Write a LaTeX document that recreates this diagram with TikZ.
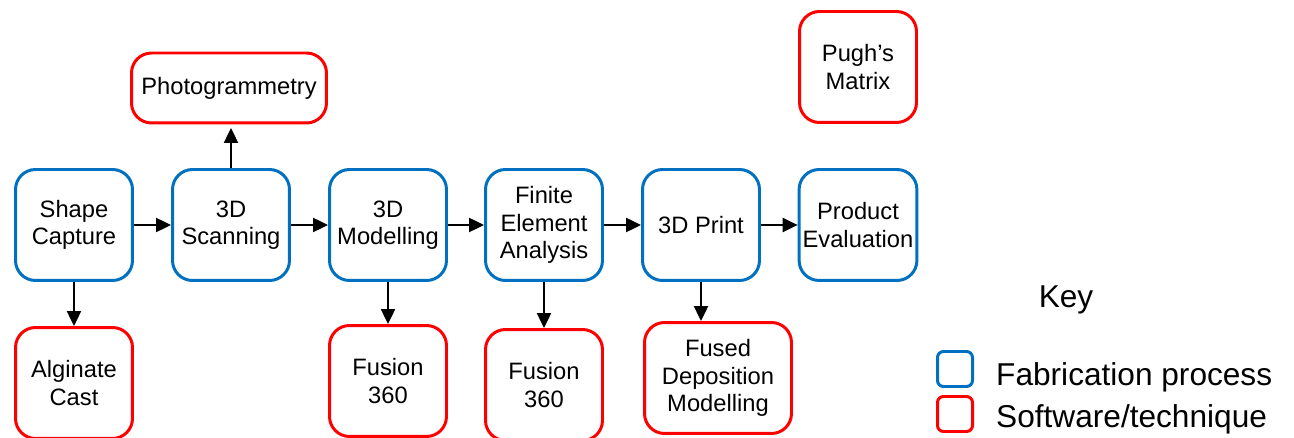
\documentclass[tikz,border=0pt]{standalone}
\usepackage{fontspec}
\setmainfont{Liberation Sans}
\usetikzlibrary{arrows.meta}
\definecolor{procblue}{RGB}{0,112,192}
\definecolor{softred}{RGB}{255,0,0}
\begin{document}
\begin{tikzpicture}[x=0.02cm,y=-0.02cm,
    process/.style={draw=procblue,line width=1.7pt,rounded corners=0.4cm,
        minimum width=2.34cm,minimum height=2.22cm,inner sep=2pt,align=center,
        font=\fontsize{13.5}{15.5}\selectfont},
    software/.style={process,draw=softred},
    keybox/.style={draw=#1,line width=1.7pt,rounded corners=0.12cm,minimum size=0.7cm,inner sep=0pt},
    link/.style={-{Triangle[length=8.5pt,width=8pt]},line width=1.1pt}]
    \useasboundingbox (0,0) rectangle (1294,438);
    % main row
    \node [process] (capture) at (74,225) {Shape\\Capture};
    \node [process] (scan) at (231,225) {3D\\Scanning};
    \node [process] (model) at (388,225) {3D\\Modelling};
    \node [process] (fea) at (544,225) {Finite\\Element\\Analysis};
    \node [process] (print) at (701,225) {3D Print};
    \node [process] (eval) at (858,225) {Product\\Evaluation};
    % software / technique
    \node [software,minimum width=3.9cm,minimum height=1.4cm] (photo) at (229,88) {Photogrammetry};
    \node [software] (pugh) at (858,67) {Pugh’s\\Matrix};
    \node [software] (alginate) at (74,383) {Alginate\\Cast};
    \node [software] (fusionA) at (388,381) {Fusion\\360};
    \node [software] (fusionB) at (544,385) {Fusion\\360};
    \node [software,minimum width=2.94cm] (fdm) at (718,378) {Fused\\Deposition\\Modelling};
    % connectors
    \draw [link] (capture) -- (scan);
    \draw [link] (scan) -- (model);
    \draw [link] (model) -- (fea);
    \draw [link] (fea) -- (print);
    \draw [link] (print) -- (eval);
    \draw [link] (scan.north) -- ([yshift=-2pt]scan.north |- photo.south);
    \draw [link] (capture) -- (alginate);
    \draw [link] (model) -- (fusionA);
    \draw [link] (fea) -- (fusionB);
    \draw [link] (print.south) -- (print.south |- fdm.north);
    % key
    \node [font=\fontsize{18}{21}\selectfont] (key) at (1066,300) {Key};
    \node [keybox=procblue] (keyproc) at (955,369) {};
    \node [keybox=softred] (keysoft) at (955,414) {};
    \node [anchor=west,font=\fontsize{18}{21}\selectfont] (keyproctext) at (990,377) {Fabrication process};
    \node [anchor=west,font=\fontsize{18}{21}\selectfont] (keysofttext) at (990,419) {Software/technique};
\end{tikzpicture}
\end{document}
